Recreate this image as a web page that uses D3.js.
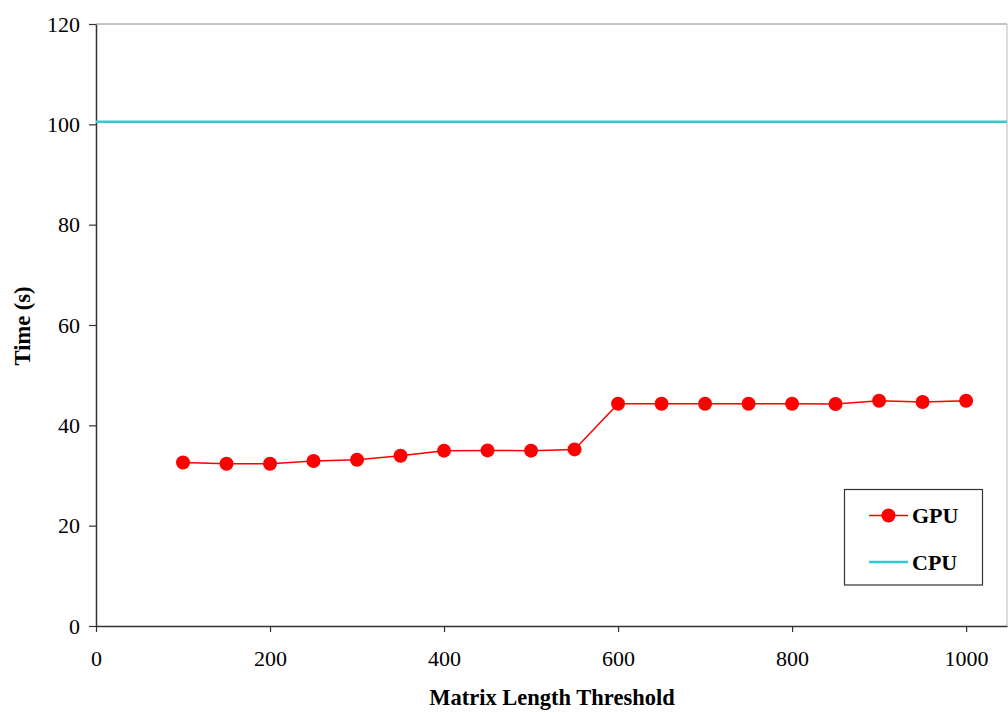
<!DOCTYPE html>
<html><head><meta charset="utf-8">
<script src="https://cdn.jsdelivr.net/npm/d3@7"></script>
<style>body{margin:0;background:#fff}svg{display:block}</style>
</head><body>
<svg id="c" width="1008" height="713"></svg>
<script>
const thresholds = [100,150,200,250,300,350,400,450,500,550,600,650,700,750,800,850,900,950,1000];
const gpuTimes = [32.6,32.35,32.35,32.9,33.15,33.95,34.95,35.0,34.95,35.2,44.3,44.3,44.3,44.3,44.3,44.25,44.9,44.65,44.9];
const cpuTime = [100.5];
const xTicks = [0,200,400,600,800,1000];
const yTicks = [0,20,40,60,80,100,120];
const seriesNames = ["GPU","CPU"];

const svg = d3.select("#c");
const L = 96, R = 1007, T = 24, B = 626;
const x = d3.scaleLinear().domain([0,1047]).range([L,R]);
const y = d3.scaleLinear().domain([0,120]).range([B,T]);
const font = "'Liberation Serif', 'Times New Roman', serif";

svg.append("line").attr("x1",L).attr("x2",R).attr("y1",T).attr("y2",T).attr("stroke","#888").attr("stroke-width",1);
svg.append("line").attr("x1",R).attr("x2",R).attr("y1",T).attr("y2",B).attr("stroke","#bbb").attr("stroke-width",1);

const xAxis = svg.append("g").attr("transform",`translate(0,${B})`)
  .call(d3.axisBottom(x).tickValues(xTicks).tickFormat(d3.format("d")).tickSize(6).tickPadding(18).tickSizeOuter(0));
const yAxis = svg.append("g").attr("transform",`translate(${L},0)`)
  .call(d3.axisLeft(y).tickValues(yTicks).tickFormat(d3.format("d")).tickSize(7).tickPadding(9).tickSizeOuter(0));
[xAxis,yAxis].forEach(g=>{
  g.attr("font-family",null).attr("font-size",null);
  g.select(".domain").attr("stroke","#333").attr("stroke-width",1.5);
  g.selectAll(".tick line").attr("stroke","#333").attr("stroke-width",1.2);
  g.selectAll("text").style("font-family",font).style("font-size","22px").attr("fill","#000");
});

svg.append("line").attr("x1",x(0)).attr("x2",R).attr("y1",y(cpuTime[0])).attr("y2",y(cpuTime[0]))
  .attr("stroke","#33CCCC").attr("stroke-width",2.5);

const data = thresholds.map((t,i)=>({t,v:gpuTimes[i]}));
svg.append("path").datum(data)
  .attr("d",d3.line().x(d=>x(d.t)).y(d=>y(d.v)))
  .attr("fill","none").attr("stroke","#FF0000").attr("stroke-width",1.5);
svg.selectAll("circle.g").data(data).enter().append("circle")
  .attr("cx",d=>x(d.t)).attr("cy",d=>y(d.v)).attr("r",7).attr("fill","#FF0000");

svg.append("text").attr("x",552).attr("y",705).attr("text-anchor","middle")
  .style("font-family",font).style("font-size","22.5px").style("font-weight","bold").text("Matrix Length Threshold");
svg.append("text").attr("transform","translate(30,326) rotate(-90)").attr("text-anchor","middle")
  .style("font-family",font).style("font-size","22.5px").style("font-weight","bold").text("Time (s)");

const lg = svg.append("g");
lg.append("rect").attr("x",844.5).attr("y",489.5).attr("width",138).attr("height",95.5)
  .attr("fill","#fff").attr("stroke","#333").attr("stroke-width",1.2);
lg.append("line").attr("x1",869).attr("x2",908).attr("y1",515.5).attr("y2",515.5).attr("stroke","#FF0000").attr("stroke-width",1.5);
lg.append("circle").attr("cx",888.5).attr("cy",515.5).attr("r",7).attr("fill","#FF0000");
lg.append("line").attr("x1",869).attr("x2",908).attr("y1",562).attr("y2",562).attr("stroke","#33CCCC").attr("stroke-width",2.5);
lg.selectAll("text").data(seriesNames).enter().append("text")
  .attr("x",912).attr("y",(d,i)=>[523,570][i])
  .style("font-family",font).style("font-size","22px").style("font-weight","bold").text(d=>d);
</script>
</body></html>
